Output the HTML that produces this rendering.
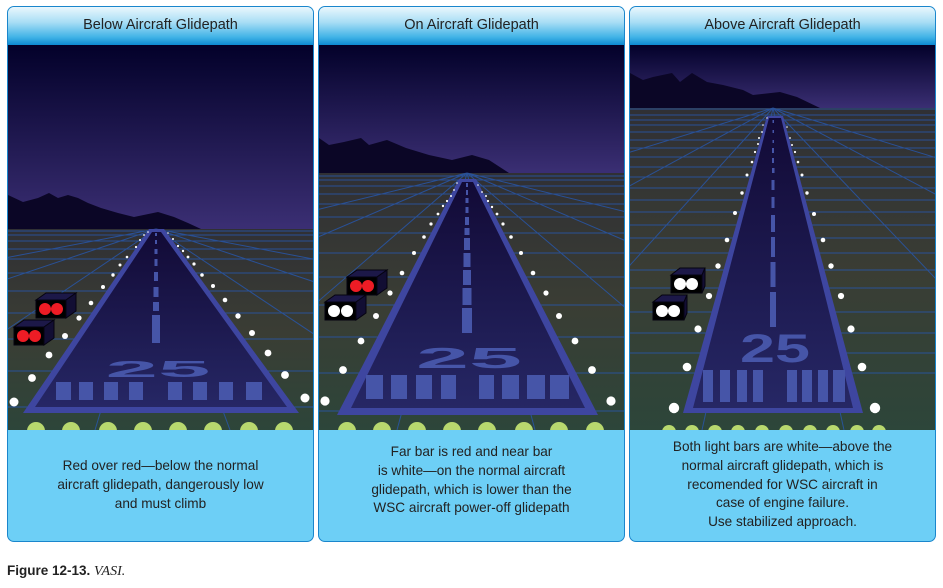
<!DOCTYPE html>
<html><head><meta charset="utf-8"><style>
*{margin:0;padding:0}
body{width:943px;height:588px;background:#fff;position:relative;overflow:hidden;font-family:"Liberation Sans",sans-serif}
.p{position:absolute;top:6px;width:305px;height:534px;border:1px solid #1a86cc;border-radius:7px;overflow:hidden;background:#6dcff6}
.h{position:absolute;left:0;top:0;width:100%;height:38px;background:linear-gradient(#eaf7fd 0%,#a9def5 40%,#3fb2e6 80%,#0d8ad2 100%);text-align:center;font-size:14.5px;line-height:36px;color:#222}
.s{position:absolute;left:0;top:38px}
.c{position:absolute;left:0;width:100%;text-align:center;font-size:13.6px;line-height:18.8px;color:#222}
.f{position:absolute;left:7px;top:563px;font-size:13.5px;color:#222}
</style></head><body>
<svg width="0" height="0" style="position:absolute"><defs>
<linearGradient id="sky" x1="0" y1="0" x2="0" y2="1"><stop offset="0" stop-color="#03012a"/><stop offset="1" stop-color="#3b2f74"/></linearGradient>
<linearGradient id="gnd" x1="0" y1="0" x2="0" y2="1"><stop offset="0" stop-color="#303034"/><stop offset=".5" stop-color="#3a3d34"/><stop offset="1" stop-color="#2c463a"/></linearGradient>
<linearGradient id="rw" x1="0" y1="0" x2="0" y2="1"><stop offset="0" stop-color="#120a36"/><stop offset="1" stop-color="#262765"/></linearGradient>
</defs></svg>

<!-- Panel 1 -->
<div class="p" style="left:7px">
<div class="h">Below Aircraft Glidepath</div>
<svg class="s" width="306" height="385" viewBox="0 0 306 385">
<rect x="0" y="0" width="306" height="185" fill="url(#sky)"/>
<path d="M0,150 L15,157 L30,153 L41,148 L50,153 L60,150 L70,153 L80,158 L93,163 L110,168 L126,172 L150,167 L166,172 L180,178 L193,184 L0,184Z" fill="#0b0626"/>
<rect x="0" y="184" width="306" height="208" fill="url(#gnd)"/>
<g stroke="#2856a8" stroke-width="1" fill="none" opacity=".85">
<path d="M0,186H306M0,190H306M0,196H306M0,204H306M0,214H306M0,228H306M0,246H306M0,268H306M0,294H306M0,326H306M0,362H306"/>
<path d="M148,184L-900,385M148,184L-450,385M148,184L-150,385M148,184L87,385M148,184L222,385M148,184L450,385M148,184L750,385M148,184L1200,385"/>
</g>
<polygon points="141,184 156,184 291,368 15,368" fill="#3e46a0"/>
<polygon points="144,187 153,187 279,362 27,362" fill="url(#rw)"/>
<g fill="#4655a8">
<rect x="147" y="188" width="2" height="3"/><rect x="147" y="195" width="2" height="4"/><rect x="146.5" y="204" width="3" height="5"/><rect x="146.5" y="214" width="3" height="7"/><rect x="146" y="227" width="4" height="9"/><rect x="145.5" y="242" width="5" height="10"/><rect x="145" y="257" width="6" height="9"/><rect x="144" y="270" width="8" height="28"/>
<rect x="48" y="337" width="15" height="18"/><rect x="71" y="337" width="14" height="18"/><rect x="96" y="337" width="14" height="18"/><rect x="121" y="337" width="14" height="18"/>
<rect x="160" y="337" width="14" height="18"/><rect x="185" y="337" width="14" height="18"/><rect x="211" y="337" width="14" height="18"/><rect x="238" y="337" width="16" height="18"/>
<text x="150" y="332" font-family="Liberation Sans" font-weight="bold" font-size="23" text-anchor="middle" textLength="105" lengthAdjust="spacingAndGlyphs">25</text>
</g>
<g fill="#fff">
<circle cx="140" cy="187" r=".8"/><circle cx="136" cy="190" r=".9"/><circle cx="132" cy="195" r="1"/><circle cx="128" cy="202" r="1.1"/><circle cx="119" cy="212" r="1.3"/><circle cx="112" cy="220" r="1.5"/><circle cx="105" cy="230" r="1.7"/><circle cx="95" cy="242" r="2"/><circle cx="83" cy="258" r="2.3"/><circle cx="71" cy="273" r="2.6"/><circle cx="57" cy="291" r="3"/><circle cx="41" cy="310" r="3.4"/><circle cx="24" cy="333" r="3.9"/><circle cx="6" cy="357" r="4.5"/>
<circle cx="160" cy="188" r=".8"/><circle cx="165" cy="194" r="1"/><circle cx="170" cy="201" r="1.1"/><circle cx="175" cy="206" r="1.2"/><circle cx="180" cy="212" r="1.4"/><circle cx="186" cy="219" r="1.6"/><circle cx="194" cy="230" r="1.8"/><circle cx="205" cy="241" r="2"/><circle cx="217" cy="255" r="2.3"/><circle cx="230" cy="271" r="2.7"/><circle cx="244" cy="288" r="3"/><circle cx="260" cy="308" r="3.4"/><circle cx="277" cy="330" r="3.9"/><circle cx="297" cy="353" r="4.5"/>
</g>
<g fill="#b8d86e"><circle cx="28" cy="386" r="9"/><circle cx="63" cy="386" r="9"/><circle cx="100" cy="386" r="9"/><circle cx="135" cy="386" r="9"/><circle cx="170" cy="386" r="9"/><circle cx="205" cy="386" r="9"/><circle cx="241" cy="386" r="9"/><circle cx="276" cy="386" r="9"/></g>
<g stroke="#050310" stroke-width="1">
<polygon points="28,255 38,248 68,248 58,255" fill="#1c1848"/><polygon points="58,255 68,248 68,266 58,273" fill="#120e33"/><rect x="28" y="255" width="30" height="18" fill="#000"/>
<polygon points="6,282 16,275 46,275 36,282" fill="#1c1848"/><polygon points="36,282 46,275 46,293 36,300" fill="#120e33"/><rect x="6" y="282" width="30" height="18" fill="#000"/>
</g>
<g fill="#ee1c25"><circle cx="37" cy="264" r="6"/><circle cx="49" cy="264" r="6"/><circle cx="15" cy="291" r="6"/><circle cx="27" cy="291" r="6"/></g>
</svg>
<div class="c" style="top:450px">Red over red—below the normal<br>aircraft glidepath, dangerously low<br>and must climb</div>
</div>

<!-- Panel 2 -->
<div class="p" style="left:318px">
<div class="h">On Aircraft Glidepath</div>
<svg class="s" width="306" height="385" viewBox="0 0 306 385">
<rect x="0" y="0" width="306" height="129" fill="url(#sky)"/>
<path d="M0,93 L10,100 L25,97 L42,93 L50,100 L68,95 L87,103 L110,110 L133,115 L153,110 L170,115 L190,128 L0,128Z" fill="#0b0626"/>
<rect x="0" y="128" width="306" height="264" fill="url(#gnd)"/>
<g stroke="#2856a8" stroke-width="1" fill="none" opacity=".85">
<path d="M0,131H306M0,135H306M0,141H306M0,149H306M0,159H306M0,172H306M0,188H306M0,208H306M0,232H306M0,260H306M0,292H306M0,328H306M0,366H306"/>
<path d="M148,128L-900,385M148,128L-450,385M148,128L-150,385M148,128L78,385M148,128L216,385M148,128L450,385M148,128L750,385M148,128L1200,385"/>
</g>
<polygon points="140,134 157,134 279,370 18,370" fill="#3e46a0"/>
<polygon points="143,137 154,137 266,363 32,363" fill="url(#rw)"/>
<g fill="#4655a8">
<rect x="147" y="138" width="2" height="4"/><rect x="147" y="145" width="2" height="5"/><rect x="146.5" y="153" width="3" height="5"/><rect x="146.5" y="162" width="3" height="6"/><rect x="146" y="172" width="4" height="8"/><rect x="145.5" y="183" width="5" height="7"/><rect x="145" y="193" width="6" height="12"/><rect x="144.5" y="208" width="7" height="14"/><rect x="144" y="225" width="8" height="15"/><rect x="143.5" y="243" width="9" height="17"/><rect x="143" y="263" width="10" height="25"/>
<rect x="47" y="330" width="17" height="24"/><rect x="72" y="330" width="16" height="24"/><rect x="97" y="330" width="16" height="24"/><rect x="122" y="330" width="15" height="24"/>
<rect x="160" y="330" width="15" height="24"/><rect x="183" y="330" width="17" height="24"/><rect x="208" y="330" width="18" height="24"/><rect x="231" y="330" width="19" height="24"/>
<text x="150" y="323" font-family="Liberation Sans" font-weight="bold" font-size="29" text-anchor="middle" textLength="106" lengthAdjust="spacingAndGlyphs">25</text>
</g>
<g fill="#fff">
<circle cx="138" cy="138" r=".8"/><circle cx="135" cy="145" r=".9"/><circle cx="132" cy="151" r="1"/><circle cx="128" cy="156" r="1.1"/><circle cx="124" cy="161" r="1.2"/><circle cx="119" cy="169" r="1.4"/><circle cx="112" cy="179" r="1.6"/><circle cx="105" cy="192" r="1.8"/><circle cx="95" cy="208" r="2"/><circle cx="83" cy="228" r="2.3"/><circle cx="71" cy="248" r="2.6"/><circle cx="57" cy="271" r="3"/><circle cx="42" cy="296" r="3.4"/><circle cx="24" cy="325" r="3.9"/><circle cx="6" cy="356" r="4.6"/>
<circle cx="159" cy="140" r=".8"/><circle cx="163" cy="147" r=".9"/><circle cx="167" cy="151" r="1"/><circle cx="169" cy="156" r="1.1"/><circle cx="173" cy="162" r="1.2"/><circle cx="178" cy="169" r="1.4"/><circle cx="184" cy="179" r="1.6"/><circle cx="192" cy="192" r="1.8"/><circle cx="202" cy="208" r="2"/><circle cx="214" cy="228" r="2.3"/><circle cx="227" cy="248" r="2.6"/><circle cx="240" cy="271" r="3"/><circle cx="256" cy="296" r="3.4"/><circle cx="273" cy="325" r="3.9"/><circle cx="292" cy="356" r="4.6"/>
</g>
<g fill="#b8d86e"><circle cx="28" cy="386" r="9"/><circle cx="63" cy="386" r="9"/><circle cx="98" cy="386" r="9"/><circle cx="133" cy="386" r="9"/><circle cx="168" cy="386" r="9"/><circle cx="205" cy="386" r="9"/><circle cx="240" cy="386" r="9"/><circle cx="276" cy="386" r="9"/></g>
<g stroke="#050310" stroke-width="1">
<polygon points="28,232 38,225 68,225 58,232" fill="#1c1848"/><polygon points="58,232 68,225 68,243 58,250" fill="#120e33"/><rect x="28" y="232" width="30" height="18" fill="#000"/>
<polygon points="6,257 16,250 47,250 37,257" fill="#1c1848"/><polygon points="37,257 47,250 47,268 37,275" fill="#120e33"/><rect x="6" y="257" width="31" height="18" fill="#000"/>
</g>
<g><circle cx="37" cy="241" r="6" fill="#ee1c25"/><circle cx="49" cy="241" r="6" fill="#ee1c25"/><circle cx="15" cy="266" r="6" fill="#fff"/><circle cx="28" cy="266" r="6" fill="#fff"/></g>
</svg>
<div class="c" style="top:436px">Far bar is red and near bar<br>is white—on the normal aircraft<br>glidepath, which is lower than the<br>WSC aircraft power-off glidepath</div>
</div>

<!-- Panel 3 -->
<div class="p" style="left:629px">
<div class="h">Above Aircraft Glidepath</div>
<svg class="s" width="306" height="385" viewBox="0 0 306 385">
<rect x="0" y="0" width="306" height="64" fill="url(#sky)"/>
<path d="M0,28 L13,35 L23,32 L42,28 L50,37 L62,28 L77,37 L93,40 L113,45 L123,50 L150,47 L167,52 L190,63 L0,63Z" fill="#0b0626"/>
<rect x="0" y="63" width="306" height="329" fill="url(#gnd)"/>
<g stroke="#2856a8" stroke-width="1" fill="none" opacity=".85">
<path d="M0,64H306M0,70H306M0,75H306M0,80H306M0,87H306M0,95H306M0,103H306M0,112H306M0,122H306M0,132H306M0,143H306M0,155H306M0,167H306M0,180H306M0,193H306M0,208H306M0,225H306M0,243H306M0,267H306M0,288H306M0,308H306M0,328H306"/>
<path d="M143,63L-900,385M143,63L-450,385M143,63L-150,385M143,63L72,385M143,63L214,385M143,63L450,385M143,63L750,385M143,63L1200,385"/>
</g>
<polygon points="137,71 153,71 233,368 53,368" fill="#3e46a0"/>
<polygon points="139,73 151,73 223,363 63,363" fill="url(#rw)"/>
<g fill="#4655a8">
<rect x="142.5" y="75" width="1.5" height="3"/><rect x="142.5" y="85" width="1.5" height="3"/><rect x="142.5" y="95" width="1.5" height="3"/><rect x="142" y="103" width="2" height="5"/><rect x="142" y="113" width="2" height="5"/><rect x="142" y="123" width="2.5" height="5"/><rect x="141.5" y="135" width="3" height="10"/><rect x="141.5" y="152" width="3" height="11"/><rect x="141" y="170" width="4" height="17"/><rect x="141" y="192" width="4" height="20"/><rect x="140.5" y="217" width="5" height="25"/><rect x="140" y="247" width="6" height="35"/>
<rect x="73" y="325" width="10" height="32"/><rect x="90" y="325" width="10" height="32"/><rect x="107" y="325" width="10" height="32"/><rect x="123" y="325" width="10" height="32"/>
<rect x="157" y="325" width="10" height="32"/><rect x="172" y="325" width="10" height="32"/><rect x="188" y="325" width="10" height="32"/><rect x="203" y="325" width="12" height="32"/>
<text x="145" y="317" font-family="Liberation Sans" font-weight="bold" font-size="40" text-anchor="middle" textLength="70" lengthAdjust="spacingAndGlyphs">25</text>
</g>
<g fill="#fff">
<circle cx="137" cy="73" r=".7"/><circle cx="133" cy="80" r=".8"/><circle cx="132" cy="87" r=".9"/><circle cx="129" cy="93" r="1"/><circle cx="128" cy="99" r="1"/><circle cx="125" cy="107" r="1.1"/><circle cx="122" cy="117" r="1.3"/><circle cx="117" cy="130" r="1.5"/><circle cx="112" cy="148" r="1.7"/><circle cx="105" cy="168" r="2"/><circle cx="97" cy="195" r="2.3"/><circle cx="88" cy="221" r="2.7"/><circle cx="79" cy="251" r="3.1"/><circle cx="68" cy="284" r="3.6"/><circle cx="57" cy="322" r="4.3"/><circle cx="44" cy="363" r="5.2"/>
<circle cx="157" cy="82" r=".8"/><circle cx="160" cy="93" r=".9"/><circle cx="162" cy="100" r="1"/><circle cx="165" cy="107" r="1.1"/><circle cx="168" cy="117" r="1.3"/><circle cx="172" cy="130" r="1.5"/><circle cx="177" cy="148" r="1.7"/><circle cx="184" cy="169" r="2"/><circle cx="193" cy="195" r="2.3"/><circle cx="201" cy="221" r="2.7"/><circle cx="211" cy="251" r="3.1"/><circle cx="221" cy="284" r="3.6"/><circle cx="232" cy="322" r="4.3"/><circle cx="245" cy="363" r="5.2"/>
</g>
<g fill="#b8d86e"><circle cx="39" cy="387" r="7"/><circle cx="62" cy="387" r="7"/><circle cx="85" cy="387" r="7"/><circle cx="108" cy="387" r="7"/><circle cx="132" cy="387" r="7"/><circle cx="156" cy="387" r="7"/><circle cx="180" cy="387" r="7"/><circle cx="203" cy="387" r="7"/><circle cx="227" cy="387" r="7"/><circle cx="249" cy="387" r="7"/></g>
<g stroke="#050310" stroke-width="1">
<polygon points="41,230 50,223 75,223 72,230" fill="#1c1848"/><polygon points="72,230 75,223 75,241 72,248" fill="#120e33"/><rect x="41" y="230" width="31" height="18" fill="#000"/>
<polygon points="23,257 32,250 57,250 54,257" fill="#1c1848"/><polygon points="54,257 57,250 57,268 54,275" fill="#120e33"/><rect x="23" y="257" width="31" height="18" fill="#000"/>
</g>
<g fill="#fff"><circle cx="50" cy="239" r="6"/><circle cx="62" cy="239" r="6"/><circle cx="32" cy="266" r="6"/><circle cx="44" cy="266" r="6"/></g>
</svg>
<div class="c" style="top:431px">Both light bars are white—above the<br>normal aircraft glidepath, which is<br>recomended for WSC aircraft in<br>case of engine failure.<br>Use stabilized approach.</div>
</div>

<div class="f"><b>Figure 12-13.</b> <i style="font-family:'Liberation Serif',serif;font-size:14px">VASI.</i></div>
</body></html>
